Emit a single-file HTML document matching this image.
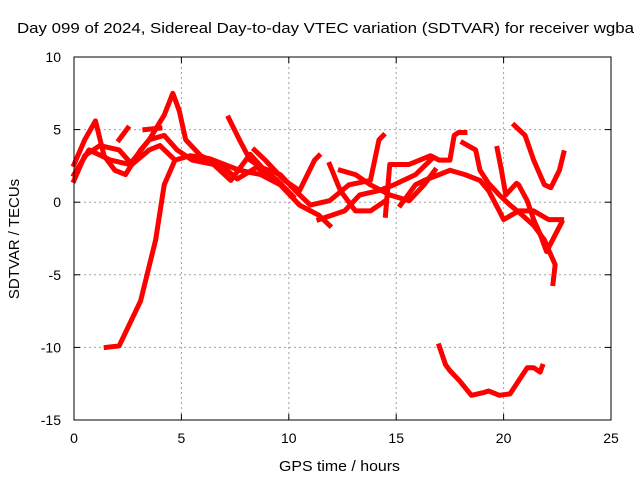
<!DOCTYPE html>
<html><head><meta charset="utf-8"><style>
body{margin:0;background:#fff;}
svg{display:block;font-family:"Liberation Sans",sans-serif;}
</style></head><body>
<svg id="chart" width="640" height="480" viewBox="0 0 640 480">
<rect width="640" height="480" fill="#fff"/>
<text x="17" y="33" font-size="15" textLength="617" lengthAdjust="spacingAndGlyphs">Day 099 of 2024, Sidereal Day-to-day VTEC variation (SDTVAR) for receiver wgba</text>
<g id="grid"></g>
<g id="series"></g>
<g id="axes"></g>
<text x="279" y="471" font-size="15" textLength="121" lengthAdjust="spacingAndGlyphs">GPS time / hours</text>
<text transform="translate(19,239) rotate(-90)" font-size="15" text-anchor="middle">SDTVAR / TECUs</text>
</svg>
<script>
const xTicks=[0,5,10,15,20,25];
const yTicks=[10,5,0,-5,-10,-15];
const trackA=[[1.5,-10],[2.1,-9.9],[3.1,-6.8],[3.8,-2.6],[4.2,1.2],[4.7,2.9],[5.4,3.2],[6.3,3.0],[7.7,2.2],[8.7,1.9],[9.6,1.2],[10.5,-0.2],[11.4,-0.9],[11.9,-1.6]];
const trackB=[[0,1.9],[0.7,3.6],[1.7,2.9],[2.6,2.6],[3.5,4.3],[4.2,6.0],[4.6,7.5],[4.9,6.3],[5.2,4.3],[5.9,3.2],[6.8,2.6],[7.6,1.6],[8.5,2.4],[9.4,1.6],[10.2,0.4]];
const trackC=[[0,2.6],[0.5,4.3],[1.0,5.6],[1.4,3.2],[1.9,2.2],[2.4,1.9],[3.1,3.6],[3.5,4.3],[4.2,4.6],[4.8,3.6],[5.5,2.9],[6.5,2.6],[7.3,1.5],[8.2,3.3],[9.0,2.0]];
const trackD=[[0,1.5],[0.5,3.2],[1.2,3.9],[2.1,3.6],[2.7,2.6],[3.5,3.6],[4.0,3.9],[4.7,2.9]];
const trackD2=[[2.1,4.3],[2.5,5.1]];
const trackD3=[[3.3,5.0],[4.0,5.1]];
const trackE=[[7.2,5.8],[7.7,4.3],[8.2,2.9],[8.7,2.4],[9.6,1.9],[10.3,0.8],[11.0,-0.2],[11.9,0.1],[12.8,1.2],[13.8,1.5],[14.2,4.3],[14.4,4.6]];
const trackF=[[8.4,3.6],[8.9,2.9],[9.8,1.5],[10.5,0.8],[11.2,2.9],[11.4,3.2]];
const trackG=[[11.9,2.6],[12.4,0.8],[13.1,-0.6],[13.8,-0.6],[14.5,0.1]];
const trackH=[[11.4,-1.2],[12.6,-0.6],[13.3,0.5],[14.2,0.8],[14.9,1.2],[15.9,1.9],[16.6,2.9]];
const trackI=[[12.4,2.2],[13.1,1.9],[13.8,1.2],[14.7,0.5],[15.6,0.1],[16.3,1.2],[16.8,2.2]];
const trackJ=[[14.5,-0.9],[14.7,2.6],[15.6,2.6],[16.6,3.2],[17.0,2.9],[17.5,2.9],[17.7,4.6],[17.9,4.8],[18.2,4.8]];
const trackK=[[15.2,-0.2],[15.9,1.2],[16.3,1.5],[17.0,1.9],[17.5,2.2],[18.2,1.9],[18.9,1.5],[19.3,0.8],[19.8,-0.6],[20.0,-1.2],[20.7,-0.6],[21.4,-0.6],[22.1,-1.2],[22.7,-1.2]];
const trackL=[[18.1,4.1],[18.7,3.6],[18.9,2.2],[19.3,1.3],[19.8,0.5],[20.3,-0.2],[20.8,-0.8],[21.4,-1.6],[21.9,-2.6],[22.1,-3.3],[22.4,-4.3],[22.3,-5.6]];
const trackM=[[19.7,3.7],[19.9,2.2],[20.1,0.5],[20.6,1.3],[20.7,1.2],[21.1,0.1],[21.4,-1.2],[21.7,-2.2],[22.0,-3.4],[22.7,-1.4]];
const trackN=[[20.5,5.3],[21.0,4.6],[21.4,2.9],[21.9,1.2],[22.2,1.0],[22.6,2.2],[22.8,3.4]];
const trackO=[[17.0,-9.9],[17.3,-11.2],[17.5,-11.6],[17.95,-12.3],[18.5,-13.3],[19.1,-13.1],[19.3,-13.0],[19.8,-13.3],[20.3,-13.2],[20.7,-12.3],[21.1,-11.4],[21.4,-11.4],[21.7,-11.7],[21.8,-11.3]];
const tracks=[trackA,trackB,trackC,trackD,trackD2,trackD3,trackE,trackF,trackG,trackH,trackI,trackJ,trackK,trackL,trackM,trackN,trackO];

const X0=74,X1=611,Y0=57,Y1=420;
const xs=h=>X0+(h-0)/25*(X1-X0);
const ys=v=>Y0+(10-v)/25*(Y1-Y0);
const NS='http://www.w3.org/2000/svg';
function mk(tag,parent,attrs){const e=document.createElementNS(NS,tag);for(const k in attrs)e.setAttribute(k,attrs[k]);parent.appendChild(e);return e;}
const grid=document.getElementById('grid'),axes=document.getElementById('axes'),series=document.getElementById('series');
xTicks.forEach(t=>{
  const x=xs(t);
  if(t>0&&t<25){const g=mk('line',grid,{x1:x,x2:x,y1:Y0,y2:Y1,stroke:'#a0a0a0','stroke-dasharray':'2,3'});
  
  }
  const tl=mk('text',axes,{x:x,y:443,'font-size':14,'text-anchor':'middle'});tl.textContent=t;
  
  
  mk('line',axes,{x1:x,x2:x,y1:Y1,y2:Y1-6,stroke:'#000'});
  mk('line',axes,{x1:x,x2:x,y1:Y0,y2:Y0+6,stroke:'#000'});
});
yTicks.forEach(t=>{
  const y=ys(t);
  if(t<10&&t>-15){const g=mk('line',grid,{x1:X0,x2:X1,y1:y,y2:y,stroke:'#a0a0a0','stroke-dasharray':'2,3'});
  
  }
  const tl=mk('text',axes,{x:61,y:y+5,'font-size':14,'text-anchor':'end'});tl.textContent=t;
  
  
  mk('line',axes,{x1:X0,x2:X0+6,y1:y,y2:y,stroke:'#000'});
  mk('line',axes,{x1:X1,x2:X1-6,y1:y,y2:y,stroke:'#000'});
});
const fr=mk('rect',axes,{x:X0,y:Y0,width:X1-X0,height:Y1-Y0,fill:'none',stroke:'#000'});


tracks.forEach(tr=>{
  const p=mk('polyline',series,{points:tr.map(d=>xs(d[0])+','+ys(d[1])).join(' '),fill:'none',stroke:'#ff0000','stroke-width':5,'stroke-linejoin':'round','stroke-linecap':'square'});
  
  
});
</script>
</body></html>
